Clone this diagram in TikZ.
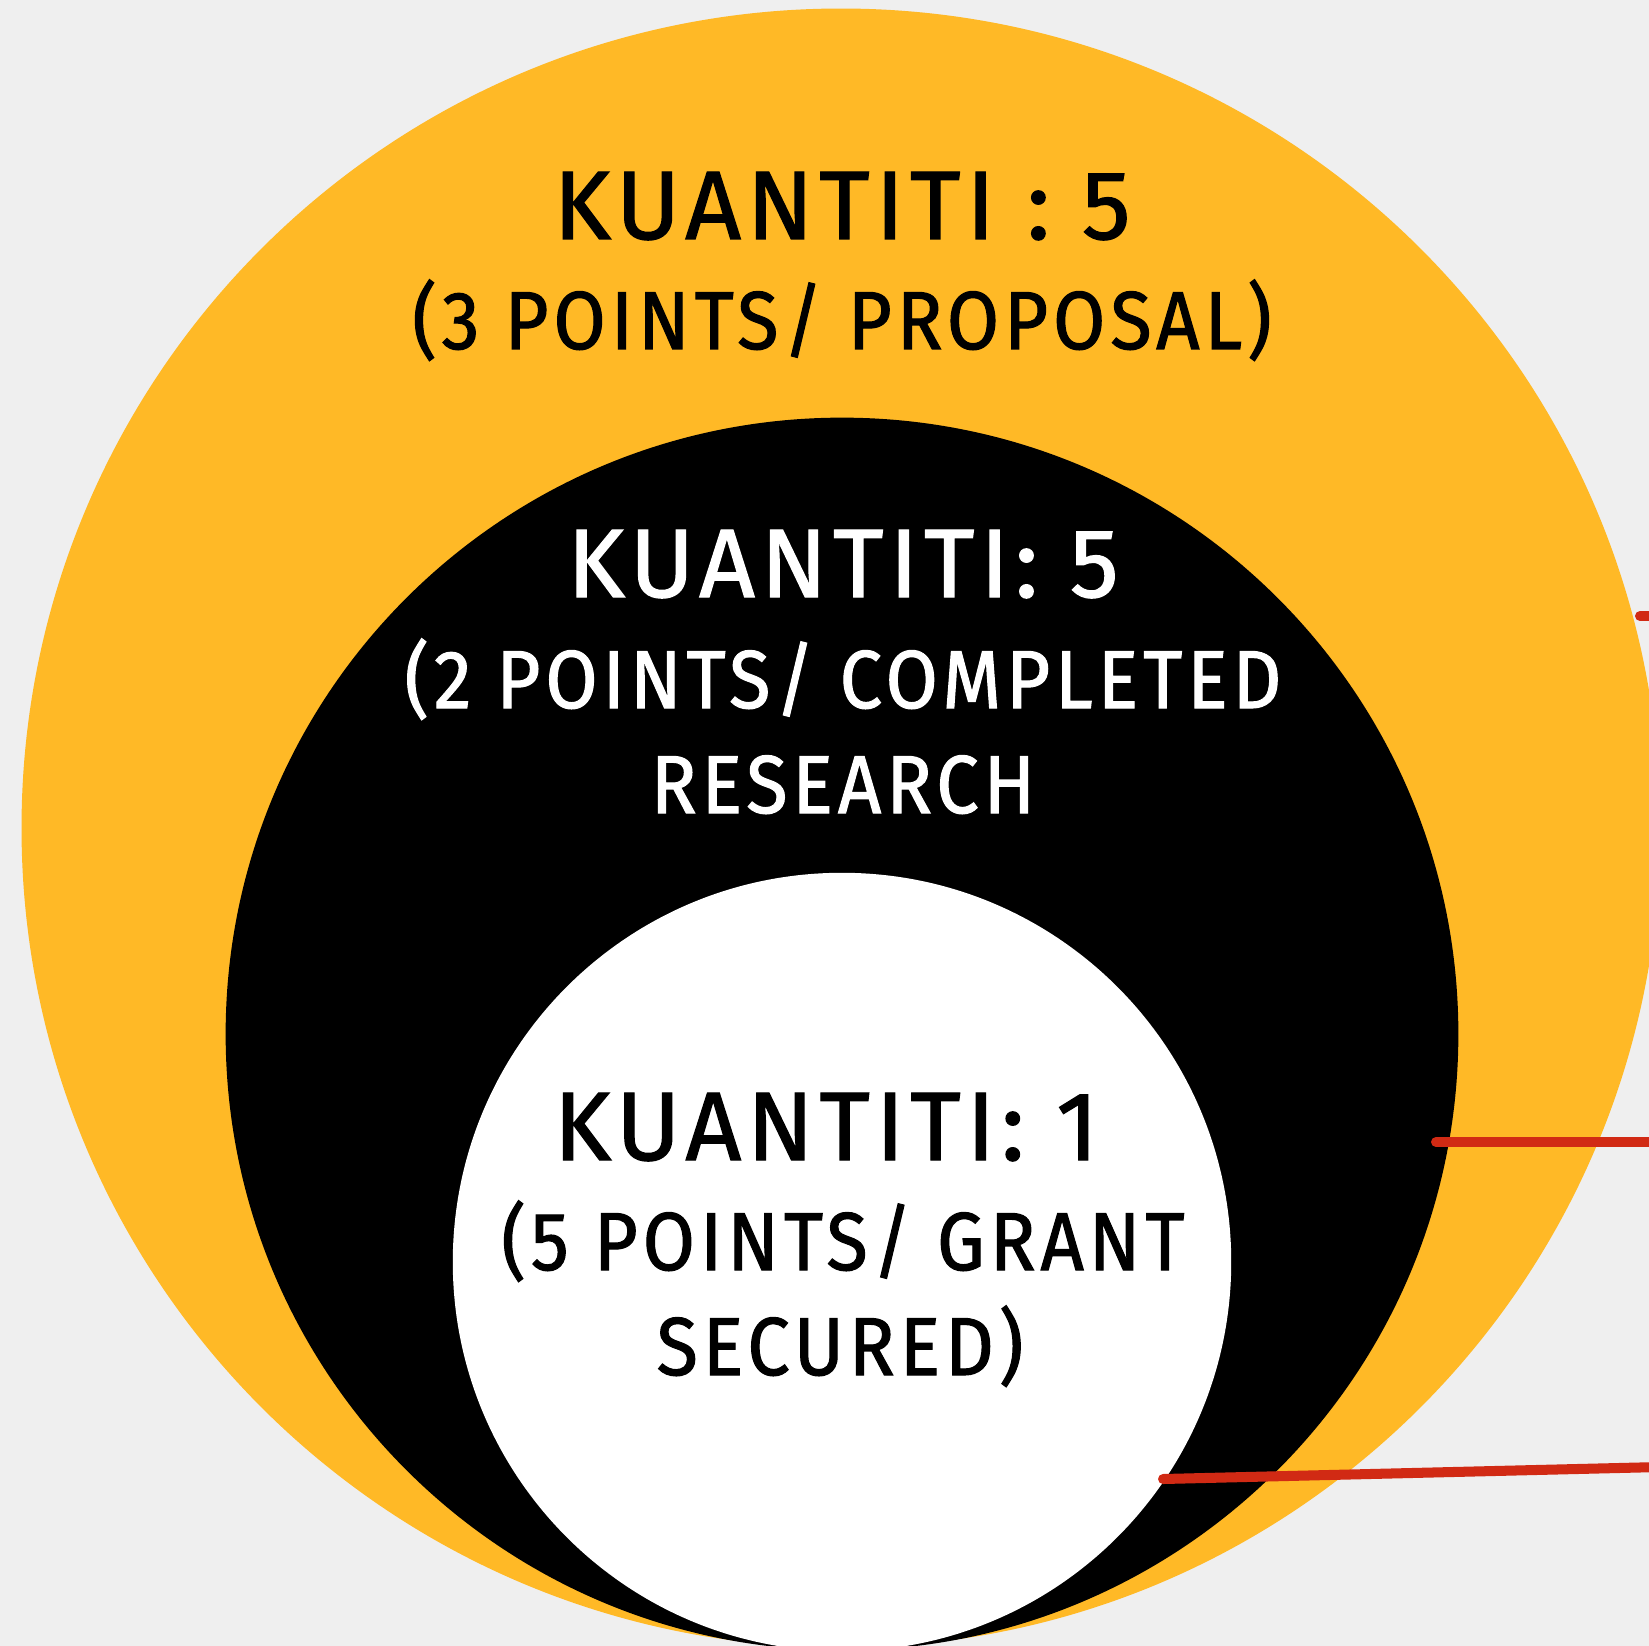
\documentclass[tikz,border=0pt]{standalone}
\usepackage{fontspec}
\setmainfont{Fira Sans}
\newfontfamily\plexlarga[FakeStretch=1.0,LetterSpace=6,FakeBold=1.3]{Fira Sans}
\newfontfamily\plexcond[FakeStretch=0.92,LetterSpace=6,FakeBold=1.3]{Fira Sans}
\usetikzlibrary{positioning}
\definecolor{amarelo}{HTML}{FFB926}
\definecolor{fundo}{HTML}{EFEFEF}
\definecolor{vermelho}{HTML}{D12A14}

\tikzset{
  anel/.style={circle, inner sep=0pt, outer sep=0pt},
  titulo/.style={anchor=base, inner sep=0pt, font=\plexlarga\fontsize{27.7}{30}\selectfont},
  linha/.style={anchor=base, inner sep=0pt, font=\plexcond\fontsize{23.4}{26}\selectfont},
  ponteiro/.style={vermelho, line width=2.85pt, line cap=round}
}

\begin{document}
\begin{tikzpicture}[x=0.01cm, y=-0.01cm]
\useasboundingbox (0,0) rectangle (1649,1646);
\clip (0,0) rectangle (1649,1646);
\fill[fundo] (0,0) rectangle (1649,1646);
% circulos
\node[anel, fill=amarelo, minimum size=16.38cm] (externo) at (841,828) {};
\node[anel, fill=black, minimum size=12.32cm] (meio) at (842,1034) {};
\node[anel, fill=white, minimum size=7.78cm] (interno) at (842,1262) {};
% textos
\node[titulo] (qtdA) at (842,239) {KUANTITI : 5};
\node[linha] (ptA) at (842,349) {(3 POINTS/ PROPOSAL)};
\node[titulo, white] (qtdB) at (843,597) {KUANTITI: 5};
\node[linha, white] (ptB) at (843,708) {(2 POINTS/ COMPLETED};
\node[linha, white] (ptB2) at (843,813) {RESEARCH};
\node[titulo] (qtdC) at (826,1160) {KUANTITI: 1};
\node[linha] (ptC) at (843,1270) {(5 POINTS/ GRANT};
\node[linha] (ptC2) at (840,1375) {SECURED)};
% ponteiros
\coordinate (p1a) at (1640,616);
\coordinate (p1b) at (1660,616);
\coordinate (p2a) at (1436,1142);
\coordinate (p2b) at (1660,1142);
\coordinate (p3a) at (1163,1479);
\coordinate (p3b) at (1660,1467);
\draw[ponteiro] (p1a) -- (p1b);
\draw[ponteiro] (p2a) -- (p2b);
\draw[ponteiro] (p3a) -- (p3b);
\end{tikzpicture}
\end{document}
